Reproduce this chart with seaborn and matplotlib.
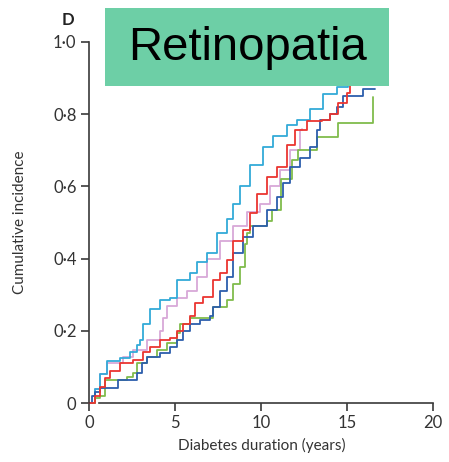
import numpy as np
import pandas as pd
import matplotlib
matplotlib.use("Agg")
import matplotlib.pyplot as plt
from matplotlib.patches import Rectangle
from matplotlib.ticker import FixedLocator, FixedFormatter
import seaborn as sns

# Cumulative incidence of retinopathy by diabetes duration (years), five groups
cyan_t = [0.00, 0.35, 0.64, 1.05, 1.80, 2.38, 2.79, 2.97, 3.14, 3.55, 4.13, 4.71, 5.12,
          5.87, 6.28, 6.86, 7.44, 8.02, 8.37, 8.78, 9.36, 10.12, 10.70, 11.51, 12.09,
          12.85, 13.60, 14.42, 15.06, 15.60]
cyan_v = [0.000, 0.040, 0.080, 0.115, 0.125, 0.140, 0.160, 0.175, 0.220, 0.260, 0.285,
          0.290, 0.340, 0.360, 0.390, 0.415, 0.470, 0.510, 0.550, 0.600, 0.660, 0.710,
          0.740, 0.770, 0.785, 0.815, 0.855, 0.875, 0.885, 0.910]

pink_t = [0.00, 0.35, 0.64, 1.05, 1.98, 2.56, 3.37, 4.13, 4.30, 4.53, 5.12, 5.70, 6.28,
          6.86, 7.62, 8.37, 9.19, 9.94, 10.52, 11.10, 11.69, 12.27, 12.38]
pink_v = [0.000, 0.040, 0.080, 0.110, 0.127, 0.147, 0.175, 0.200, 0.235, 0.270, 0.290,
          0.310, 0.350, 0.400, 0.450, 0.490, 0.530, 0.550, 0.600, 0.645, 0.700, 0.755,
          0.760]

red_t = [0.00, 0.35, 0.64, 0.93, 1.22, 1.80, 2.56, 3.14, 3.55, 4.13, 4.71, 5.12, 5.47,
         5.87, 6.16, 6.63, 7.21, 7.62, 8.02, 8.37, 8.95, 9.36, 9.77, 10.35, 10.93, 11.51,
         11.98, 12.67, 13.55, 14.01, 14.48, 15.00, 15.17, 15.60]
red_v = [0.000, 0.020, 0.045, 0.070, 0.090, 0.110, 0.120, 0.140, 0.155, 0.175, 0.180,
         0.200, 0.220, 0.240, 0.277, 0.295, 0.340, 0.360, 0.395, 0.450, 0.480, 0.525,
         0.580, 0.625, 0.655, 0.715, 0.755, 0.780, 0.785, 0.800, 0.830, 0.860, 0.885,
         0.920]

blue_t = [0.00, 0.17, 0.35, 0.64, 1.69, 2.79, 3.08, 3.37, 4.13, 4.71, 5.12, 5.47, 5.87,
          6.45, 7.03, 7.21, 7.62, 8.02, 8.37, 8.95, 9.53, 10.35, 10.93, 11.28, 11.69,
          12.27, 12.85, 13.26, 13.43, 14.01, 14.42, 14.77, 15.93, 16.63]
blue_v = [0.000, 0.020, 0.030, 0.042, 0.064, 0.083, 0.110, 0.128, 0.138, 0.155, 0.175,
          0.200, 0.220, 0.230, 0.240, 0.265, 0.310, 0.350, 0.415, 0.460, 0.490, 0.535,
          0.570, 0.610, 0.655, 0.680, 0.710, 0.755, 0.785, 0.800, 0.820, 0.850, 0.870,
          0.870]

green_t = [0.00, 0.35, 0.64, 0.93, 2.21, 2.56, 2.79, 3.37, 3.95, 4.53, 5.12, 5.29, 5.87,
           7.21, 8.02, 8.37, 8.78, 9.07, 9.19, 9.36, 10.35, 10.64, 11.16, 11.80, 12.15,
           13.26, 14.48, 16.51]
green_v = [0.000, 0.015, 0.020, 0.064, 0.072, 0.083, 0.110, 0.128, 0.147, 0.166, 0.194,
           0.220, 0.235, 0.265, 0.285, 0.330, 0.377, 0.440, 0.470, 0.490, 0.505, 0.535,
           0.620, 0.673, 0.700, 0.737, 0.775, 0.848]

groups = ["pink", "cyan", "green", "blue", "red"]
series = {"pink": (pink_t, pink_v), "cyan": (cyan_t, cyan_v), "green": (green_t, green_v),
          "blue": (blue_t, blue_v), "red": (red_t, red_v)}
palette = {"cyan": "#33AAD8", "pink": "#D8A8D8", "red": "#EA3530",
           "blue": "#2C5EAC", "green": "#80BC4C"}

xticks = [0, 5, 10, 15, 20]
yticks = [0, 0.2, 0.4, 0.6, 0.8, 1.0]
ytick_labels = ["0", "0·2", "0·4", "0·6", "0·8", "1·0"]

df = pd.concat(
    [pd.DataFrame({"duration": series[g][0], "incidence": series[g][1], "group": g})
     for g in groups],
    ignore_index=True,
)

sns.set_style("white")
plt.rcParams["font.family"] = ["Lato", "DejaVu Sans"]

fig = plt.figure(figsize=(4.49, 4.62), dpi=100)
ax = fig.add_axes([89 / 449, 1 - 403 / 462, 344 / 449, 361 / 462])

sns.lineplot(data=df, x="duration", y="incidence", hue="group", hue_order=groups,
             palette=palette, estimator=None, sort=False, drawstyle="steps-post",
             linewidth=1.3, legend=False, ax=ax)

ax.set_xlim(0, 20)
ax.set_ylim(0, 1.0)
ax.xaxis.set_major_locator(FixedLocator(xticks))
ax.set_xticklabels([str(x) for x in xticks])
ax.yaxis.set_major_locator(FixedLocator(yticks))
ax.yaxis.set_major_formatter(FixedFormatter(ytick_labels))

spine_col = "#3a3a3a"
for side in ["top", "right"]:
    ax.spines[side].set_visible(False)
for side in ["left", "bottom"]:
    ax.spines[side].set_color(spine_col)
    ax.spines[side].set_linewidth(1.2)
ax.spines["bottom"].set_bounds(0.58, 20)

ax.tick_params(axis="both", direction="out", length=6, width=1.2, color=spine_col,
               labelsize=12, labelcolor="#333333", pad=3)
ax.tick_params(axis="x", bottom=True)
ax.tick_params(axis="y", left=True)

ax.set_xlabel("Diabetes duration (years)", fontsize=11, color="#333333")
ax.set_ylabel("Cumulative incidence", fontsize=11, color="#333333")
ax.xaxis.set_label_coords(0.503, -0.119)
ax.xaxis.label.set_va("center")
ax.yaxis.set_label_coords(-0.2, 0.5)
ax.yaxis.label.set_va("center")

for line in ax.get_lines():
    line.set_clip_on(False)

fig.text(68 / 449, 1 - 20 / 462, "D", fontsize=12, fontweight="bold", color="#222222",
         ha="center", va="center")

box = Rectangle((105 / 449, 1 - 86 / 462), 284 / 449, 78 / 462, transform=fig.transFigure,
                facecolor="#6DCFA6", edgecolor="none", zorder=10)
fig.add_artist(box)
fig.text(247 / 449, 1 - 48 / 462, "Retinopatia", fontsize=34, family="Liberation Sans",
         color="black", ha="center", va="center", zorder=11)

fig.savefig("out.png", dpi=100, facecolor="white")
